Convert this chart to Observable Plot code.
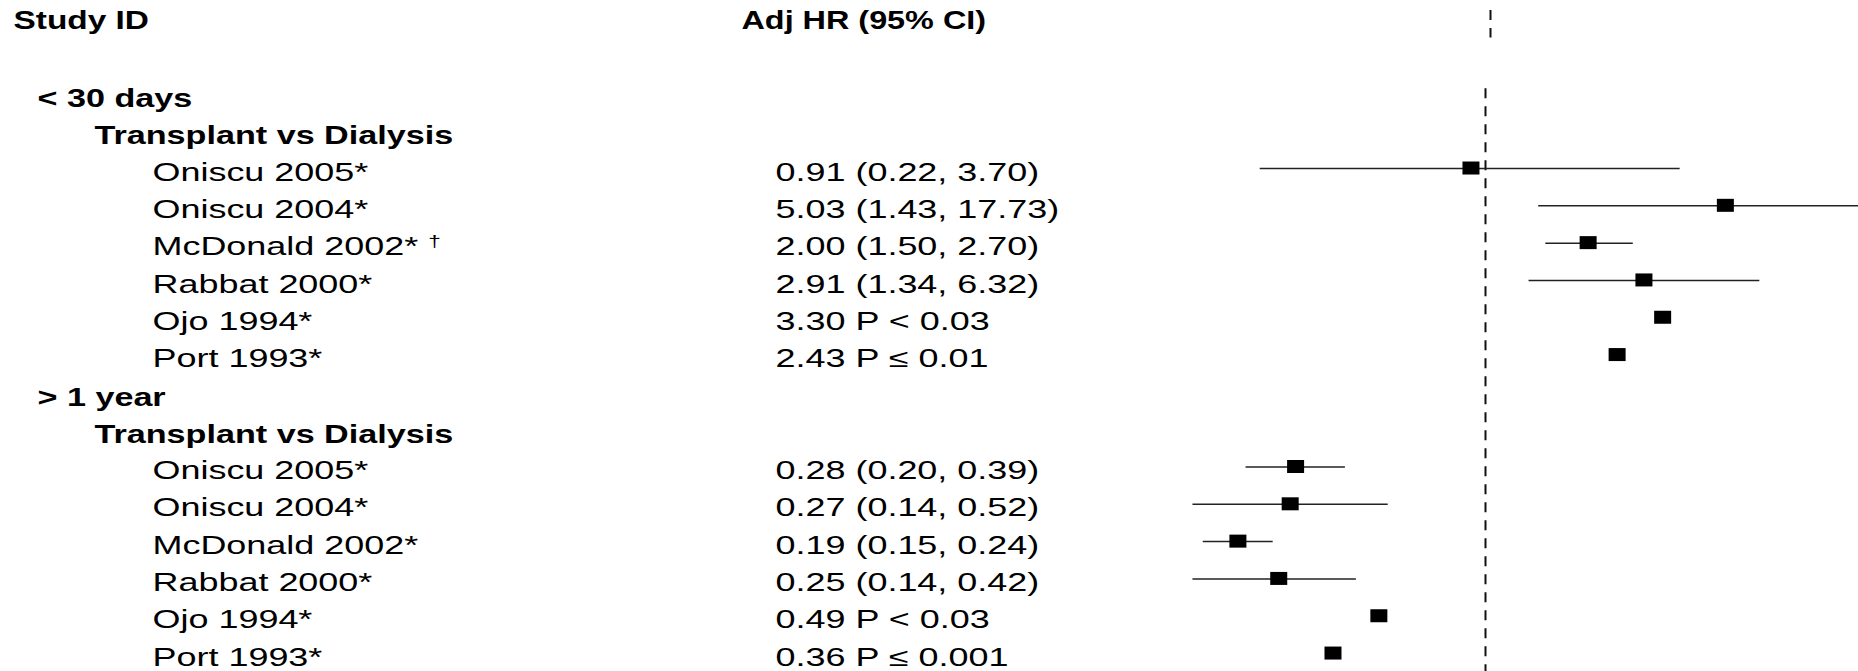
<!DOCTYPE html>
<html>
<head>
<meta charset="utf-8">
<script src="https://cdn.jsdelivr.net/npm/d3@7"></script>
<script src="https://cdn.jsdelivr.net/npm/@observablehq/plot@0.6"></script>
<style>
html, body { margin: 0; padding: 0; background: #fff; overflow: hidden; }
#chart svg { display: block; }
</style>
</head>
<body>
<div id="chart"></div>
<script>
// ---- data ----
const headers = ["Study ID", "Adj HR (95% CI)"];
const groups = ["< 30 days", "> 1 year"];
const comparison = "Transplant vs Dialysis";

const studies30 = ["Oniscu 2005*", "Oniscu 2004*", "McDonald 2002* †", "Rabbat 2000*", "Ojo 1994*", "Port 1993*"];
const hr30 = [0.91, 5.03, 2.00, 2.91, 3.30, 2.43];
const lo30 = [0.22, 1.43, 1.50, 1.34, null, null];
const hi30 = [3.70, 17.73, 2.70, 6.32, null, null];
const p30  = [null, null, null, null, "< 0.03", "≤ 0.01"];

const studies1y = ["Oniscu 2005*", "Oniscu 2004*", "McDonald 2002*", "Rabbat 2000*", "Ojo 1994*", "Port 1993*"];
const hr1y = [0.28, 0.27, 0.19, 0.25, 0.49, 0.36];
const lo1y = [0.20, 0.14, 0.15, 0.14, null, null];
const hi1y = [0.39, 0.52, 0.24, 0.42, null, null];
const p1y  = [null, null, null, null, "< 0.03", "≤ 0.001"];

const nullValue = 1;

// ---- table built from the arrays ----
const sets = [
  [groups[0], studies30, hr30, lo30, hi30, p30],
  [groups[1], studies1y, hr1y, lo1y, hi1y, p1y]
];
const rows = [];
for (const [g, names, hr, lo, hi, p] of sets) {
  rows.push({row: rows.length, label: g, kind: "group"});
  rows.push({row: rows.length, label: comparison, kind: "sub"});
  names.forEach((n, i) => rows.push({
    row: rows.length, label: n, kind: "study",
    hr: hr[i], lo: lo[i], hi: hi[i], p: p[i],
    stat: hr[i].toFixed(2) + (lo[i] != null ? ` (${lo[i].toFixed(2)}, ${hi[i].toFixed(2)})` : ` P ${p[i]}`)
  }));
}
const headerRow = -2;
const lastRow = rows.length - 1;
const studyRows = rows.filter(d => d.kind === "study");
const ciRows = studyRows.filter(d => d.lo != null);

const FONT = "'Liberation Sans', Arial, Helvetica, sans-serif";
const textCommon = {frameAnchor: "left", textAnchor: "start", fontSize: 25.5, fill: "#000", dy: 4};

const plot = Plot.plot({
  width: 1858,
  height: 671,
  marginTop: 0, marginRight: 0, marginBottom: 0, marginLeft: 0,
  style: {fontFamily: FONT, fontSize: "25.5px", background: "#fff", color: "#000"},
  x: {type: "log", domain: [0.1, 10], range: [1142.4, 1827.6], axis: null},
  y: {domain: [headerRow - 0.503, lastRow + 0.481], range: [0, 671], axis: null},
  marks: [
    // null line (header segment + main)
    Plot.ruleX([nullValue], {y1: headerRow - 0.5, y2: headerRow + 0.5, insetTop: 10, dx: 5,
      stroke: "#111", strokeWidth: 2, strokeDasharray: "10,8"}),
    Plot.ruleX([nullValue], {y1: rows[0].row - 0.5, y2: lastRow + 0.5, insetTop: 13.5,
      stroke: "#111", strokeWidth: 2, strokeDasharray: "10,8"}),
    // confidence intervals
    Plot.ruleY(ciRows, {y: "row", x1: "lo", x2: "hi", stroke: "#222", strokeWidth: 1.5, clip: true}),
    // point estimates
    Plot.rect(studyRows, {x1: "hr", x2: "hr", y1: "row", y2: "row",
      insetLeft: -8.5, insetRight: -8.5, insetTop: -6.5, insetBottom: -6.5, fill: "#000"}),
    // headers
    Plot.text([headers[0]], {...textCommon, text: d => d, y: headerRow, dx: 13, dy: 2, fontWeight: "bold"}),
    Plot.text([headers[1]], {...textCommon, text: d => d, y: headerRow, dx: 741, dy: 2, fontWeight: "bold"}),
    // group / subgroup labels
    Plot.text(rows.filter(d => d.kind === "group"), {...textCommon, text: "label", y: "row", dx: 37, dy: 5, fontWeight: "bold"}),
    Plot.text(rows.filter(d => d.kind === "sub"), {...textCommon, text: "label", y: "row", dx: 94, dy: 5, fontWeight: "bold"}),
    // study names and stats
    Plot.text(studyRows, {...textCommon, text: "label", y: "row", dx: 152}),
    Plot.text(studyRows, {...textCommon, text: "stat", y: "row", dx: 775})
  ]
});

// widen the lettering like the reference (stretched glyphs) and raise the dagger
plot.querySelectorAll("text").forEach(t => {
  const g = t.closest("g");
  const bold = g && g.getAttribute("font-weight") === "bold";
  let sx = bold ? 1.34 : 1.41;
  if (t.textContent === headers[1]) sx = 1.27;
  if (t.textContent === headers[0]) sx = 1.31;
  if (t.textContent.includes("†")) {
    const base = t.textContent.replace(/\s*†\s*$/, "");
    t.textContent = base + " ";
    const ts = document.createElementNS("http://www.w3.org/2000/svg", "tspan");
    ts.setAttribute("font-size", "16");
    ts.setAttribute("dy", "-8");
    ts.textContent = "†";
    t.appendChild(ts);
  }
  let tr = t.getAttribute("transform") || "";
  const xa = t.getAttribute("x");
  if (xa != null && !isNaN(+xa)) { tr += ` translate(${+xa},0)`; t.removeAttribute("x"); }
  t.setAttribute("transform", `${tr} scale(${sx},1)`);
});

document.getElementById("chart").appendChild(plot);
</script>
</body>
</html>
